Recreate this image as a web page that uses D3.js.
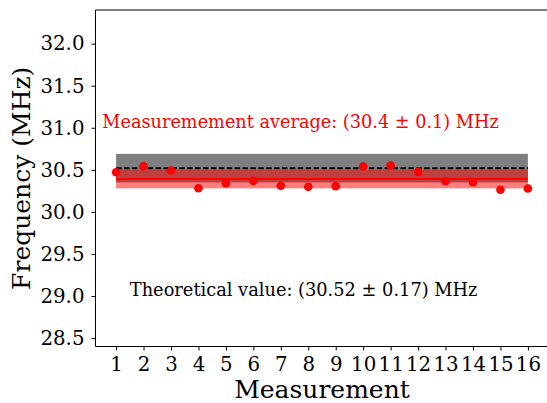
<!DOCTYPE html>
<html>
<head>
<meta charset="utf-8">
<script src="https://cdn.jsdelivr.net/npm/d3@7"></script>
<style>
  html, body { margin: 0; padding: 0; background: #fff; }
  svg { display: block; }
  text { font-family: "DejaVu Serif", serif; }
</style>
</head>
<body>
<svg id="chart" width="547" height="403"></svg>
<script>
// ---- data ----
const measurements = [1,2,3,4,5,6,7,8,9,10,11,12,13,14,15,16];
const frequencies = [30.472,30.543,30.492,30.282,30.341,30.369,30.310,30.298,
                     30.306,30.539,30.551,30.476,30.365,30.353,30.263,30.278];
const theoreticalValue = 30.52;
const theoreticalErr = 0.17;
const averageValue = 30.39;
const averageErr = 0.11;
const yTicks = [28.5,29.0,29.5,30.0,30.5,31.0,31.5,32.0];
const xTicks = measurements;
const averageLabel = "Measuremement average: (30.4 ± 0.1) MHz";
const theoryLabel = "Theoretical value: (30.52 ± 0.17) MHz";

// ---- layout ----
const svg = d3.select("#chart");
const pL = 95.5, pR = 548.5, pT = 10, pB = 346.5;
const x = d3.scaleLinear().domain([0.25, 16.75]).range([pL, pR]);
const y = d3.scaleLinear().domain([28.4, 32.4]).range([pB, pT]);

const g = svg.append("g");

// theoretical band
g.append("rect")
  .attr("x", x(1)).attr("width", x(16) - x(1))
  .attr("y", y(theoreticalValue + theoreticalErr))
  .attr("height", y(theoreticalValue - theoreticalErr) - y(theoreticalValue + theoreticalErr))
  .attr("fill", "#000").attr("fill-opacity", 0.5);
g.append("line")
  .attr("x1", x(1)).attr("x2", x(16))
  .attr("y1", y(theoreticalValue)).attr("y2", y(theoreticalValue))
  .attr("stroke", "#000").attr("stroke-width", 2)
  .attr("stroke-dasharray", "5.5,2.4");

// average band
g.append("rect")
  .attr("x", x(1)).attr("width", x(16) - x(1))
  .attr("y", y(averageValue + averageErr))
  .attr("height", y(averageValue - averageErr) - y(averageValue + averageErr))
  .attr("fill", "#ff0000").attr("fill-opacity", 0.5);
g.append("line")
  .attr("x1", x(1)).attr("x2", x(16))
  .attr("y1", y(averageValue)).attr("y2", y(averageValue))
  .attr("stroke", "#ff0000").attr("stroke-width", 2);

// points
g.selectAll("circle.pt").data(measurements.map((m, i) => [m, frequencies[i]]))
  .enter().append("circle").attr("class", "pt")
  .attr("cx", d => x(d[0])).attr("cy", d => y(d[1]))
  .attr("r", 4.3).attr("fill", "#ff0000");

// annotations
g.append("text").attr("x", x(0.5)).attr("y", y(31.0))
  .attr("fill", "#ff0000").attr("font-size", 17.7)
  .text(averageLabel);
g.append("text").attr("x", x(1.5)).attr("y", y(29.0))
  .attr("fill", "#000").attr("font-size", 17.8)
  .text(theoryLabel);

// axes
const yAxis = d3.axisLeft(y).tickValues(yTicks).tickFormat(d3.format(".1f")).tickSizeOuter(0).tickSize(4).tickPadding(7);
const xAxis = d3.axisBottom(x).tickValues(xTicks).tickFormat(d3.format("d")).tickSizeOuter(0).tickSize(4).tickPadding(6);

const ya = svg.append("g").attr("transform", `translate(${pL},0)`).call(yAxis);
const xa = svg.append("g").attr("transform", `translate(0,${pB})`).call(xAxis);
[ya, xa].forEach(a => {
  a.select(".domain").remove();
  a.selectAll("text").attr("font-family", "DejaVu Serif").attr("font-size", 19.8).attr("fill", "#000");
  a.selectAll("line").attr("stroke", "#000");
});

// spines
svg.append("line").attr("x1", pL).attr("x2", pL).attr("y1", pT).attr("y2", pB).attr("stroke", "#000");
svg.append("line").attr("x1", pL).attr("x2", pR).attr("y1", pB).attr("y2", pB).attr("stroke", "#000");
svg.append("line").attr("x1", pL).attr("x2", pR).attr("y1", pT).attr("y2", pT).attr("stroke", "#000");

// axis labels
svg.append("text").attr("x", (pL + pR) / 2).attr("y", 398)
  .attr("text-anchor", "middle").attr("font-size", 25).text("Measurement");
svg.append("text").attr("transform", `translate(30,${(pT + pB) / 2}) rotate(-90)`)
  .attr("text-anchor", "middle").attr("font-size", 25).text("Frequency (MHz)");
</script>
</body>
</html>
